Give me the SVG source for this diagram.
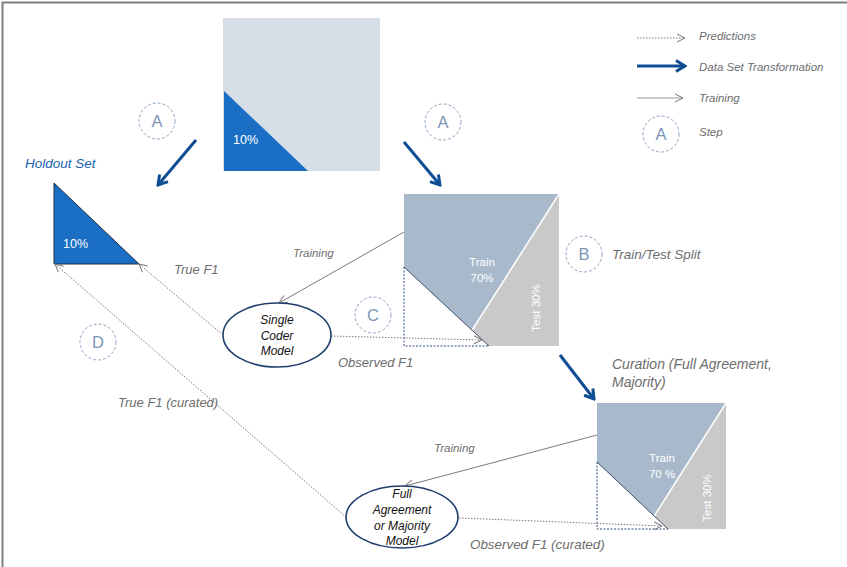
<svg xmlns="http://www.w3.org/2000/svg" width="847" height="567" viewBox="0 0 847 567">
<defs>
<style>
text{font-family:"Liberation Sans",Arial,sans-serif}
.lbl{font-style:italic;fill:#6d6d6d}
.step circle{fill:#fff;stroke:#8CA2C2;stroke-width:1;stroke-dasharray:3 2}
.step text{font-size:16.5px;fill:#7D95B7;text-anchor:middle}
.pred{stroke:#7a7a7a;stroke-width:1;stroke-dasharray:1.5 1.5;fill:none}
.train{stroke:#7a7a7a;stroke-width:1;fill:none}
.xform{stroke:#0E4D94;stroke-width:3;fill:none}
.wt{fill:#fff;font-size:11.5px;text-anchor:middle}
.ell{fill:#fff;stroke:#1F3E6E;stroke-width:1.6}
.et{font-style:italic;font-size:12px;fill:#111;text-anchor:middle}
</style>
<marker id="mb" markerUnits="userSpaceOnUse" viewBox="0 0 14 14" refX="12" refY="7" markerWidth="14" markerHeight="14" orient="auto">
<path d="M3,1.5 L12,7 L3,12.5" fill="none" stroke="#0E4D94" stroke-width="3"/>
</marker>
<marker id="mo" markerUnits="userSpaceOnUse" viewBox="0 0 10 10" refX="9" refY="5" markerWidth="10" markerHeight="10" orient="auto">
<path d="M1,1 L9,5 L1,9" fill="none" stroke="#7a7a7a" stroke-width="1"/>
</marker>
</defs>
<rect x="0" y="0" width="847" height="567" fill="#fff"/>
<path d="M2.5,567 L2.5,2.5 L847,2.5" fill="none" stroke="#7f7f7f" stroke-width="2"/>

<g id="full-dataset">
<rect x="223" y="18" width="157" height="153" fill="#D6DEE8"/>
<polygon points="224,91 224,171 308,171" fill="#1A6FC5"/>
<text x="233" y="144" fill="#fff" font-size="12.5">10%</text>
</g>

<g id="holdout-set">
<text x="25" y="168" class="lbl" style="fill:#1A62B0" font-size="13.5">Holdout Set</text>
<polygon points="54,183 54,264 139,264" fill="#1A6FC5" stroke="#1d2c44" stroke-width="1"/>
<text x="63" y="248" fill="#fff" font-size="12.5">10%</text>
</g>

<g id="split-set">
<rect x="404" y="194" width="155" height="152" fill="#A8B9CC"/>
<polygon points="559,194 559,346 462,346" fill="#C9C9C9"/>
<line x1="559" y1="194" x2="462" y2="346" stroke="#fff" stroke-width="1.5"/>
<polygon points="404,267 404,346 489,346" fill="#fff"/>
<path d="M404,267 L404,346 L489,346" fill="none" stroke="#2E4C7C" stroke-width="1" stroke-dasharray="2 1.5"/>
<line x1="404" y1="267" x2="489" y2="346" stroke="#3B4F6B" stroke-width="1"/>
<text class="wt" x="482" y="266">Train</text>
<text class="wt" x="482" y="282">70%</text>
<text class="wt" transform="translate(540,308) rotate(-90)">Test 30%</text>
</g>

<g id="curated-set">
<rect x="597" y="403" width="129" height="126" fill="#A8B9CC"/>
<polygon points="726,403 726,529 646,529" fill="#C9C9C9"/>
<line x1="726" y1="403" x2="646" y2="529" stroke="#fff" stroke-width="1.5"/>
<polygon points="597,462 597,529 668,529" fill="#fff"/>
<path d="M597,462 L597,529 L668,529" fill="none" stroke="#2E4C7C" stroke-width="1" stroke-dasharray="2 1.5"/>
<line x1="597" y1="462" x2="668" y2="529" stroke="#3B4F6B" stroke-width="1"/>
<text class="wt" x="662" y="462">Train</text>
<text class="wt" x="662" y="478">70 %</text>
<text class="wt" transform="translate(711,498) rotate(-90)">Test 30%</text>
</g>

<g id="connectors">
<line class="xform" x1="196" y1="140" x2="158" y2="185" marker-end="url(#mb)"/>
<line class="xform" x1="404" y1="142" x2="440" y2="185" marker-end="url(#mb)"/>
<line class="xform" x1="560" y1="355" x2="594" y2="399" marker-end="url(#mb)"/>
<line class="train" x1="404" y1="232" x2="279" y2="303" marker-end="url(#mo)"/>
<line class="train" x1="597" y1="435" x2="405" y2="486" marker-end="url(#mo)"/>
<line class="pred" x1="331" y1="336" x2="482" y2="340" marker-end="url(#mo)"/>
<line class="pred" x1="459" y1="518" x2="662" y2="526" marker-end="url(#mo)"/>
<line class="pred" x1="223" y1="335" x2="139" y2="264" marker-end="url(#mo)"/>
<line class="pred" x1="346" y1="517" x2="55" y2="264" marker-end="url(#mo)"/>
</g>

<g id="single-coder-model">
<ellipse class="ell" cx="277" cy="335" rx="54" ry="32"/>
<text class="et" x="277" y="324">Single</text>
<text class="et" x="277" y="340">Coder</text>
<text class="et" x="277" y="355">Model</text>
</g>

<g id="full-agreement-model">
<ellipse class="ell" cx="402" cy="517" rx="56" ry="31"/>
<text class="et" x="402" y="498">Full</text>
<text class="et" x="402" y="514">Agreement</text>
<text class="et" x="402" y="530">or Majority</text>
<text class="et" x="402" y="545">Model</text>
</g>

<g id="step-a1" class="step"><circle cx="157" cy="121" r="18"/><text x="157" y="127">A</text></g>
<g id="step-a2" class="step"><circle cx="443" cy="122" r="18"/><text x="443" y="128">A</text></g>
<g id="step-b" class="step"><circle cx="584" cy="254" r="18"/><text x="584" y="260">B</text></g>
<g id="step-c" class="step"><circle cx="373" cy="315" r="18"/><text x="373" y="321">C</text></g>
<g id="step-d" class="step"><circle cx="98" cy="342" r="18"/><text x="98" y="348">D</text></g>

<g id="labels">
<text class="lbl" x="174" y="274" font-size="13">True F1</text>
<text class="lbl" x="293" y="257" font-size="11.5">Training</text>
<text class="lbl" x="612" y="259" font-size="13.5">Train/Test Split</text>
<text class="lbl" x="338" y="367" font-size="13">Observed F1</text>
<text class="lbl" x="118" y="407" font-size="13">True F1 (curated)</text>
<text class="lbl" x="612" y="369" font-size="14">Curation (Full Agreement,</text>
<text class="lbl" x="612" y="387" font-size="14">Majority)</text>
<text class="lbl" x="434" y="452" font-size="11.5">Training</text>
<text class="lbl" x="470" y="549" font-size="13.4">Observed F1 (curated)</text>
</g>

<g id="legend">
<line class="pred" x1="637" y1="38" x2="685" y2="38" marker-end="url(#mo)"/>
<line class="xform" x1="637" y1="66" x2="685" y2="66" marker-end="url(#mb)"/>
<line class="train" x1="637" y1="98" x2="683" y2="98" marker-end="url(#mo)" style="stroke:#9a9a9a"/>
<g class="step"><circle cx="661" cy="134" r="18"/><text x="661" y="140">A</text></g>
<text class="lbl" x="699" y="40" font-size="11.5">Predictions</text>
<text class="lbl" x="699" y="71" font-size="11.5">Data Set Transformation</text>
<text class="lbl" x="699" y="102" font-size="11.5">Training</text>
<text class="lbl" x="699" y="136" font-size="11.5">Step</text>
</g>
</svg>
